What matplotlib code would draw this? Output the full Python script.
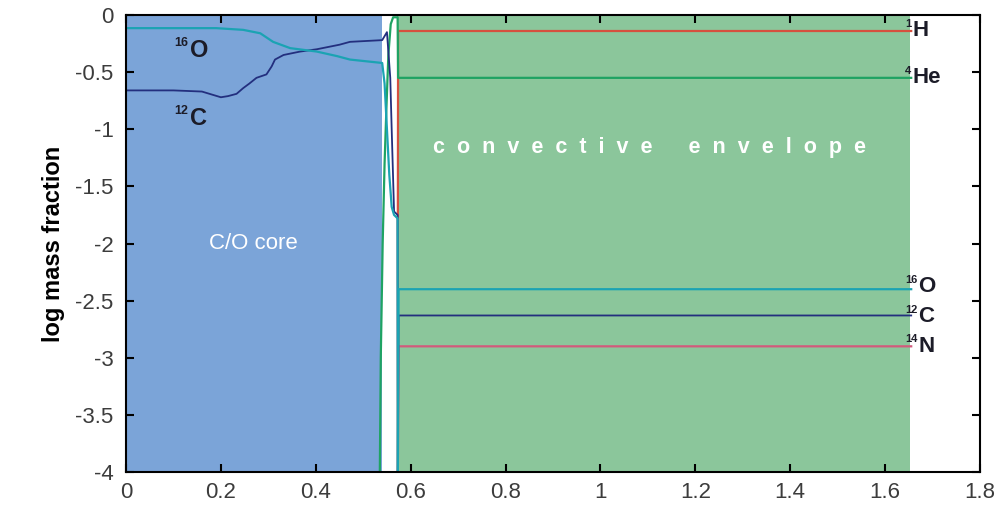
import matplotlib
matplotlib.use("Agg")
import matplotlib.pyplot as plt

plt.rcParams['font.family'] = ['Liberation Sans', 'DejaVu Sans']

# ---- data (mass coordinate, log mass fraction) ----
h1_x = [0.573, 0.573, 0.5735, 1.655]
h1_y = [-4.0, -1.75, -0.14, -0.14]

he4_x = [0.535, 0.537, 0.541, 0.545, 0.549, 0.553, 0.558, 0.563, 0.5725, 0.5735, 1.655]
he4_y = [-4.0, -3.0, -2.0, -1.3, -0.8, -0.35, -0.08, -0.02, -0.02, -0.55, -0.55]

c12_x = [0.0, 0.10, 0.16, 0.20, 0.215, 0.233, 0.247, 0.26, 0.275, 0.296, 0.307,
         0.314, 0.332, 0.367, 0.402, 0.45, 0.472, 0.54, 0.550, 0.557, 0.560,
         0.565, 0.5725, 0.573, 0.5745, 1.655]
c12_y = [-0.66, -0.66, -0.67, -0.72, -0.71, -0.69, -0.64, -0.60, -0.55, -0.52, -0.45,
         -0.39, -0.35, -0.32, -0.30, -0.26, -0.235, -0.22, -0.15, -0.55, -1.0,
         -1.72, -1.75, -4.0, -2.63, -2.63]

o16_x = [0.0, 0.19, 0.247, 0.283, 0.31, 0.346, 0.402, 0.445, 0.472, 0.54,
         0.545, 0.550, 0.555, 0.560, 0.565, 0.5725, 0.573, 0.5745, 1.655]
o16_y = [-0.115, -0.115, -0.13, -0.16, -0.235, -0.29, -0.32, -0.36, -0.39, -0.42,
         -0.6, -1.0, -1.4, -1.68, -1.75, -1.78, -4.0, -2.40, -2.40]

n14_x = [0.573, 0.5745, 1.655]
n14_y = [-4.0, -2.90, -2.90]

core_range = (0.0, 0.540)
env_range = (0.572, 1.653)

right_labels = [("1", "H", -0.14), ("4", "He", -0.55), ("16", "O", -2.38),
                ("12", "C", -2.64), ("14", "N", -2.90)]
left_labels = [("16", "O", -0.31), ("12", "C", -0.91)]

xticks = [0, 0.2, 0.4, 0.6, 0.8, 1.0, 1.2, 1.4, 1.6, 1.8]
xtick_labels = ["0", "0.2", "0.4", "0.6", "0.8", "1", "1.2", "1.4", "1.6", "1.8"]
yticks = [0, -0.5, -1, -1.5, -2, -2.5, -3, -3.5, -4]
ytick_labels = ["0", "-0.5", "-1", "-1.5", "-2", "-2.5", "-3", "-3.5", "-4"]

# ---- colours ----
col_core = "#7ba4d8"
col_env = "#8bc69b"
col_h = "#d6503f"
col_he = "#1fa363"
col_c = "#232f7e"
col_o = "#1ba3b3"
col_n = "#d25a7c"

fig = plt.figure(figsize=(10.04, 5.05), dpi=100)
ax = fig.add_axes([126/1004, 1 - 472/505, (980-126)/1004, (472-15)/505])

ax.axvspan(*core_range, color=col_core, lw=0, zorder=0)
ax.axvspan(*env_range, color=col_env, lw=0, zorder=0)

lw = 1.6
ax.plot(h1_x, h1_y, color=col_h, lw=lw, zorder=2)
ax.plot(n14_x, n14_y, color=col_n, lw=lw, zorder=2)
ax.plot(he4_x, he4_y, color=col_he, lw=lw, zorder=3)
ax.plot(c12_x, c12_y, color=col_c, lw=1.3, zorder=3)
ax.plot(o16_x, o16_y, color=col_o, lw=lw, zorder=4)

ax.set_xlim(0, 1.8)
ax.set_ylim(-4, 0)
ax.set_xticks(xticks)
ax.set_xticklabels(xtick_labels)
ax.set_yticks(yticks)
ax.set_yticklabels(ytick_labels)
ax.tick_params(direction='in', length=6, width=1.5, top=True, right=True,
               labelsize=16, labelcolor='#3c3c3c')
ax.tick_params(axis='y', pad=9)
ax.tick_params(axis='x', pad=7)
for s in ax.spines.values():
    s.set_linewidth(1.5)
    s.set_zorder(6)

ax.set_ylabel("log mass fraction", fontsize=17, fontweight='bold', labelpad=7)

TXT = '#1c1c28'


def iso_right_sup(x, y, sup, el, size, supsize):
    # superscript right-aligned at x, element left-aligned at x
    ax.annotate(el, (x, y), xytext=(1, 0), textcoords='offset points',
                ha='left', va='center', fontsize=size, fontweight='bold', color=TXT)
    ax.annotate(sup, (x, y), xytext=(0, size * 0.32), textcoords='offset points',
                ha='right', va='center', fontsize=supsize, fontweight='bold', color=TXT)


def iso_left_sup(x, y, sup, el, size, supsize):
    # superscript left-aligned at x, element follows
    w = 0.556 * supsize * len(sup)
    ax.annotate(sup, (x, y), xytext=(0, size * 0.32), textcoords='offset points',
                ha='left', va='center', fontsize=supsize, fontweight='bold', color=TXT)
    ax.annotate(el, (x, y), xytext=(w + 0.8, 0), textcoords='offset points',
                ha='left', va='center', fontsize=size, fontweight='bold', color=TXT)


for sup, el, y in left_labels:
    iso_right_sup(0.131, y, sup, el, 17, 9)

for sup, el, y in right_labels:
    iso_left_sup(1.642, y, sup, el, 16, 8)

ax.text(0.268, -2.0, "C/O core", fontsize=16, color='white', ha='center', va='center')
ax.text(1.103, -1.16, "c  o  n  v  e  c  t  i  v  e      e  n  v  e  l  o  p  e",
        fontsize=15.5, fontweight='bold', color='white', ha='center', va='center')

fig.savefig("out.png", dpi=100)
